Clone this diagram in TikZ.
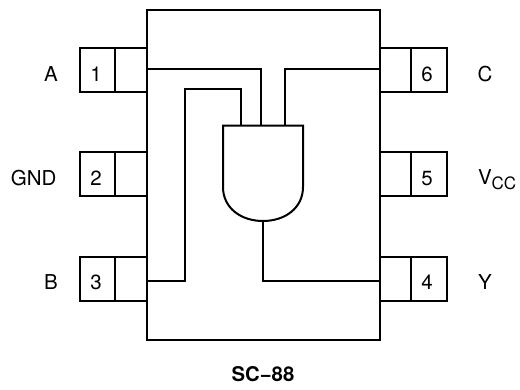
\documentclass[tikz,border=0pt]{standalone}
\usepackage{fontspec}
\setmainfont{TeX Gyre Heros}
\tikzset{
  x=1pt,y=-1pt,
  every path/.style={line width=2pt,line join=miter},
  boxpart/.style={draw,rectangle,inner sep=0pt,outer sep=0pt},
  lbl/.style={inner sep=0pt,anchor=base,font=\fontsize{20.5}{22}\selectfont},
  wire/.style={draw,line cap=butt},
}
\begin{document}
\begin{tikzpicture}
\useasboundingbox (0,0) rectangle (520,389);
% body
\node[boxpart,minimum width=233pt,minimum height=330.5pt] (body) at (263,174.75) {};
% pins
\node[boxpart,minimum width=35.5pt,minimum height=44pt] (p1) at (97.25,70) {};
\node[boxpart,minimum width=31.5pt,minimum height=44pt] (p1i) at (130.75,70) {};
\node[boxpart,minimum width=35.5pt,minimum height=44pt] (p2) at (97.25,174) {};
\node[boxpart,minimum width=31.5pt,minimum height=44pt] (p2i) at (130.75,174) {};
\node[boxpart,minimum width=35.5pt,minimum height=44.5pt] (p3) at (97.25,278.75) {};
\node[boxpart,minimum width=31.5pt,minimum height=44.5pt] (p3i) at (130.75,278.75) {};
\node[boxpart,minimum width=35.5pt,minimum height=44pt] (p6) at (428.75,70) {};
\node[boxpart,minimum width=31.5pt,minimum height=44pt] (p6i) at (395.25,70) {};
\node[boxpart,minimum width=35.5pt,minimum height=44pt] (p5) at (428.75,174) {};
\node[boxpart,minimum width=31.5pt,minimum height=44pt] (p5i) at (395.25,174) {};
\node[boxpart,minimum width=35.5pt,minimum height=44.5pt] (p4) at (428.75,278.75) {};
\node[boxpart,minimum width=31.5pt,minimum height=44.5pt] (p4i) at (395.25,278.75) {};
% gate
\coordinate (gA) at (261,125.5);
\coordinate (gC) at (285,125.5);
\coordinate (gB) at (241,125.5);
\coordinate (gY) at (263,221);
\draw (223,125.5) -- (303,125.5) -- (303,187) .. controls (303,208) and (285,221) .. (263,221) .. controls (241,221) and (223,208) .. (223,187) -- cycle;
% wires
\coordinate (a0) at (146.5,68.5);
\coordinate (c0) at (379.5,68.5);
\coordinate (b0) at (146.5,280.5);
\coordinate (y0) at (379.5,280.5);
\draw[wire] (a0) -| (gA);
\draw[wire] (c0) -| (gC);
\draw[wire] (b0) -- (184.5,280.5) -- (184.5,88.5) -- (241,88.5) -- (gB);
\draw[wire] (gY) |- (y0);
% labels
\node[lbl] (n1) at (96,81) {1};
\node[lbl] (n2) at (96,185) {2};
\node[lbl] (n3) at (96,289) {3};
\node[lbl] (n4) at (427,289) {4};
\node[lbl] (n5) at (427,185) {5};
\node[lbl] (n6) at (427,81) {6};
\node[lbl] (la) at (51,81) {A};
\node[lbl,anchor=base east] (lg) at (57.5,185) {GND};
\node[lbl] (lb) at (51,289) {B};
\node[lbl] (lc) at (485,81) {C};
\node[lbl,anchor=base west] (lv) at (477,184.5) {V\raisebox{-5pt}{\fontsize{17}{18}\selectfont CC}};
\node[lbl] (ly) at (485,289) {Y};
\node[anchor=base,inner sep=0pt,font=\fontsize{20.3}{22}\selectfont\bfseries] (t) at (263,381.5) {SC−88};
\end{tikzpicture}
\end{document}
